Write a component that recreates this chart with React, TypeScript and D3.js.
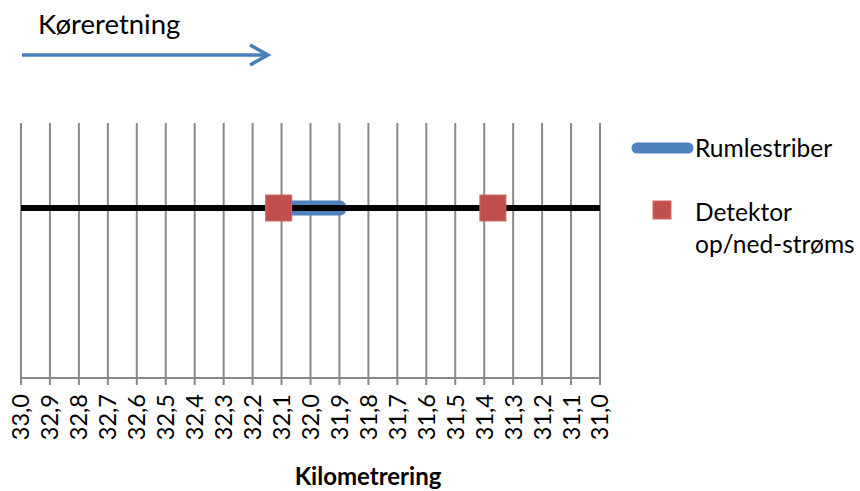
import React from "react";
import * as d3 from "d3";

const tickValues = [33.0, 32.9, 32.8, 32.7, 32.6, 32.5, 32.4, 32.3, 32.2, 32.1, 32.0, 31.9, 31.8, 31.7, 31.6, 31.5, 31.4, 31.3, 31.2, 31.1, 31.0];
const roadX = [33.0, 31.0];
const roadY = [2, 2];
const stripX = [32.1, 31.9];
const stripY = [2, 2];
const detectorX = [32.11, 31.37];
const detectorY = [2, 2];
const seriesNames = ["Rumlestriber", "Detektor", "op/ned-strøms"];
const titleText = "Køreretning";
const axisTitle = "Kilometrering";

const FONT = "Lato, 'Open Sans', sans-serif";
const BLUE = "#4F81BD";
const RED = "#C0504D";
const GRID = "#898989";

export default function App() {
  const x = d3.scaleLinear().domain([33, 31]).range([21, 600]);
  const y = d3.scaleLinear().domain([0, 3]).range([378, 123]);
  const line = d3.line<[number, number]>().x((d) => x(d[0])).y((d) => y(d[1]));
  const road = roadX.map((v, i) => [v, roadY[i]] as [number, number]);
  const strip = stripX.map((v, i) => [v, stripY[i]] as [number, number]);
  const fmt = (v: number) => v.toFixed(1).replace(".", ",");
  const sq = 26;
  return (
    <svg width={860} height={491} style={{ position: "absolute", left: 0, top: 0, background: "#fff" }} fontFamily={FONT}>
      {/* direction arrow */}
      <text x={38} y={34} fontSize={27.5} fill="#000">{titleText}</text>
      <line x1={22} y1={55} x2={267} y2={55} stroke="#4A7EBB" strokeWidth={3.5} />
      <polyline points="250,45 268,55 250,65" fill="none" stroke="#4A7EBB" strokeWidth={3.5} />

      {/* gridlines */}
      {tickValues.map((t) => (
        <line key={"g" + t} x1={x(t)} x2={x(t)} y1={y(3)} y2={y(0) + 7} stroke={GRID} strokeWidth={2} />
      ))}
      <line x1={x(33)} x2={x(31)} y1={y(0)} y2={y(0)} stroke={GRID} strokeWidth={2} />
      {tickValues.map((t) => (
        <text key={"t" + t} transform={`translate(${x(t)},394) rotate(-90)`} textAnchor="end" dy="0.36em" fontSize={23.5} fill="#000">
          {fmt(t)}
        </text>
      ))}
      <text x={368} y={485} textAnchor="middle" fontSize={24} fontWeight="bold" fill="#000">{axisTitle}</text>

      {/* series */}
      <path d={line(strip) || ""} fill="none" stroke={BLUE} strokeWidth={15} strokeLinecap="round" />
      <path d={line(road) || ""} fill="none" stroke="#000" strokeWidth={6} />
      {detectorX.map((v, i) => (
        <rect key={"d" + i} x={x(v) - sq / 2} y={y(detectorY[i]) - sq / 2} width={sq} height={sq} fill={RED} stroke="#D06A67" strokeWidth={1} />
      ))}

      {/* legend */}
      <line x1={637} x2={688} y1={148} y2={148} stroke={BLUE} strokeWidth={11} strokeLinecap="round" />
      <text x={695} y={157} fontSize={24.5} fill="#000">{seriesNames[0]}</text>
      <rect x={653} y={201} width={18} height={18} fill={RED} stroke="#D06A67" strokeWidth={1} />
      <text x={695} y={221} fontSize={24.5} fill="#000">{seriesNames[1]}</text>
      <text x={695} y={253} fontSize={24.5} fill="#000">{seriesNames[2]}</text>
    </svg>
  );
}
